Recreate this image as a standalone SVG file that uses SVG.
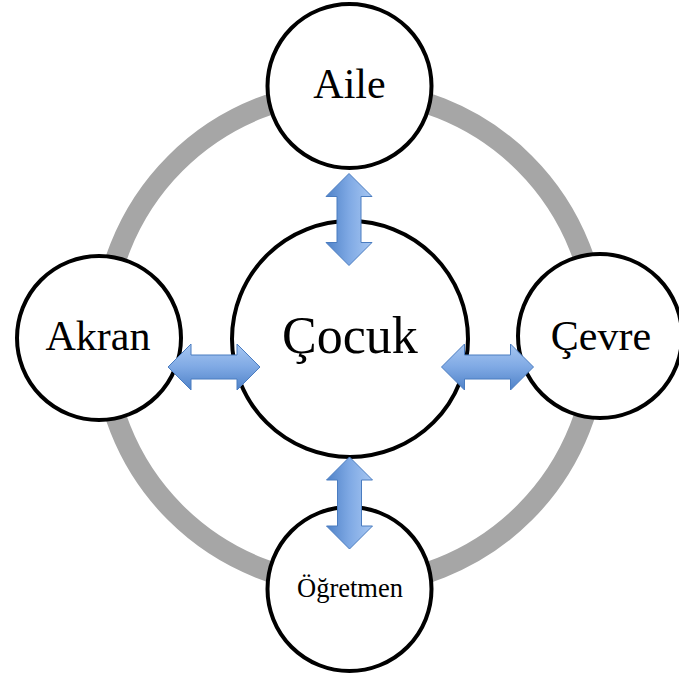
<svg xmlns="http://www.w3.org/2000/svg" width="679" height="683" viewBox="0 0 679 683">
  <defs>
    <linearGradient id="blueH" x1="0" y1="0" x2="0" y2="1">
      <stop offset="0" stop-color="#a7c7f2"/>
      <stop offset="0.5" stop-color="#7fa9e4"/>
      <stop offset="1" stop-color="#4f82c8"/>
    </linearGradient>
    <path id="dblArrow" d="M-46,0 L-23,-23 L-23,-12 L23,-12 L23,-23 L46,0 L23,23 L23,12 L-23,12 L-23,23 Z"/>
  </defs>
  <style>
    .ring { fill: none; stroke: #a6a6a6; stroke-width: 21; }
    .node { fill: #ffffff; stroke: #000000; stroke-width: 4; }
    .label { font-family: "Liberation Serif", "Times New Roman", serif; fill: #000000; text-anchor: middle; }
    .arrow { fill: url(#blueH); stroke: #4a7cc0; stroke-width: 1; }
  </style>
  <rect width="679" height="683" fill="#ffffff"/>

  <!-- outer ring joining the surrounding nodes -->
  <circle class="ring" cx="350" cy="338" r="247"/>

  <g id="node-aile">
    <circle class="node" cx="349.5" cy="86" r="82"/>
    <text class="label" x="349.5" y="98" font-size="42">Aile</text>
  </g>
  <g id="node-akran">
    <circle class="node" cx="99" cy="338" r="82"/>
    <text class="label" x="98" y="350" font-size="42">Akran</text>
  </g>
  <g id="node-cevre">
    <circle class="node" cx="600" cy="336" r="82"/>
    <text class="label" x="601" y="350" font-size="42">Çevre</text>
  </g>
  <g id="node-ogretmen">
    <circle class="node" cx="349.5" cy="589" r="82"/>
    <text class="label" x="350" y="597" font-size="26.5">Öğretmen</text>
  </g>
  <g id="node-cocuk">
    <circle class="node" cx="350" cy="339" r="118"/>
    <text class="label" x="350" y="353" font-size="52">Çocuk</text>
  </g>

  <g id="connectors">
    <use href="#dblArrow" class="arrow" transform="translate(349,219.5) rotate(90)"/>
    <use href="#dblArrow" class="arrow" transform="translate(214,367)"/>
    <use href="#dblArrow" class="arrow" transform="translate(487.5,367)"/>
    <use href="#dblArrow" class="arrow" transform="translate(349.5,503) rotate(90)"/>
  </g>
</svg>
